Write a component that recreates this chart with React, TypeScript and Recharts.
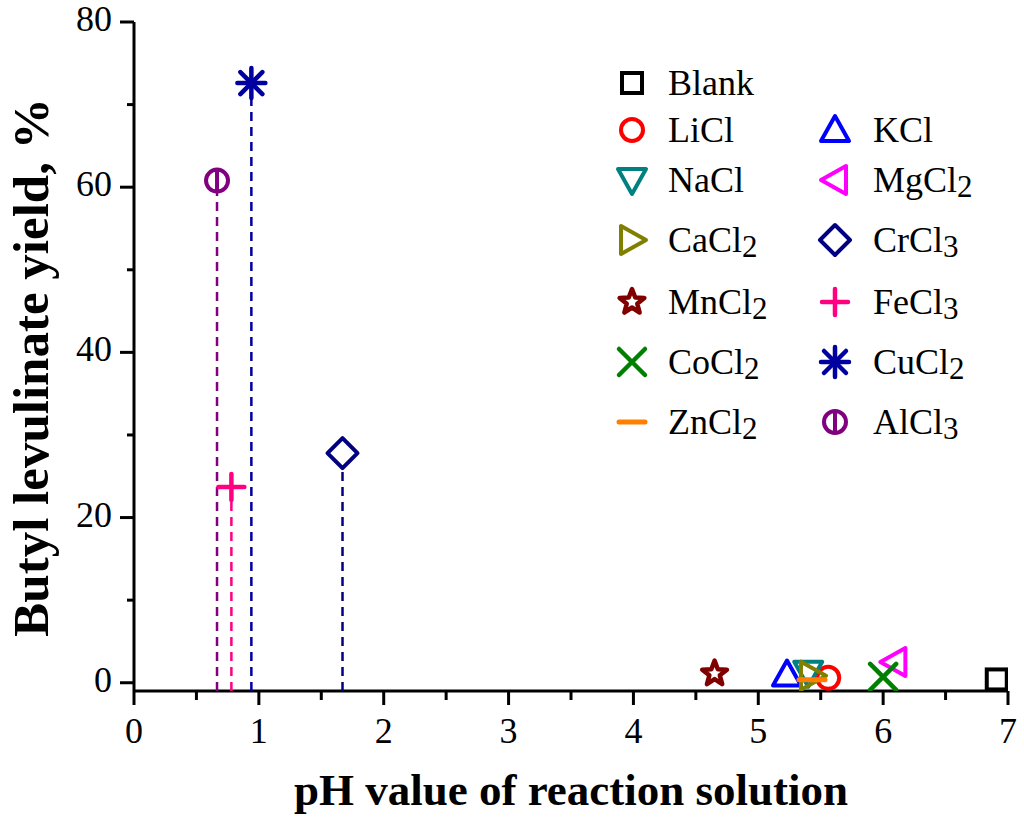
import React from 'react';
import { ScatterChart, Scatter, XAxis, YAxis, Legend, Label } from 'recharts';

// salts, measured pH of the reaction solution and butyl levulinate yield (%)
const salts = ['Blank', 'LiCl', 'KCl', 'NaCl', 'MgCl2', 'CaCl2', 'CrCl3', 'MnCl2', 'FeCl3', 'CoCl2', 'CuCl2', 'ZnCl2', 'AlCl3'];
const phValues = [6.91, 5.56, 5.23, 5.4, 6.09, 5.43, 1.67, 4.65, 0.78, 6.0, 0.94, 5.43, 0.665];
const yieldValues = [0.4, 0.6, 1.0, 1.2, 2.5, 0.85, 27.8, 1.1, 23.7, 0.7, 72.6, 0.35, 60.8];
const colors = ['#000000', '#ff0000', '#0000ff', '#008080', '#ff00ff', '#808000', '#000080', '#800000', '#ff0080', '#008000', '#0000a0', '#ff8000', '#800080'];
const markers = ['square', 'circle', 'up', 'down', 'left', 'right', 'diamond', 'star', 'plus', 'cross', 'asterisk', 'dash', 'circleBar'];

// salts that get a dashed drop line to the pH axis
const dropSalts = ['AlCl3', 'FeCl3', 'CuCl2', 'CrCl3'];

const legendLeft = ['Blank', 'LiCl', 'NaCl', 'CaCl2', 'MnCl2', 'CoCl2', 'ZnCl2'];
const legendRight = ['', 'KCl', 'MgCl2', 'CrCl3', 'FeCl3', 'CuCl2', 'AlCl3'];

const xTicks = [0, 0.5, 1, 1.5, 2, 2.5, 3, 3.5, 4, 4.5, 5, 5.5, 6, 6.5, 7];
const yTicks = [0, 10, 20, 30, 40, 50, 60, 70, 80];

const FONT = '"Liberation Serif", "Times New Roman", serif';

function Marker({ kind, cx, cy, color, fill = 'none' }: any) {
  const c = { stroke: color, strokeWidth: 4, fill, strokeLinejoin: 'round' as const, strokeLinecap: 'round' as const };
  switch (kind) {
    case 'square':
      return <rect x={cx - 10} y={cy - 10} width={20} height={20} {...c} strokeLinejoin="miter" />;
    case 'circle':
      return <circle cx={cx} cy={cy} r={11} {...c} />;
    case 'up':
      return <polygon points={`${cx},${cy - 14} ${cx + 14},${cy + 11} ${cx - 14},${cy + 11}`} {...c} />;
    case 'down':
      return <polygon points={`${cx},${cy + 14} ${cx + 14},${cy - 11} ${cx - 14},${cy - 11}`} {...c} />;
    case 'left':
      return <polygon points={`${cx - 14},${cy} ${cx + 11},${cy - 14} ${cx + 11},${cy + 14}`} {...c} />;
    case 'right':
      return <polygon points={`${cx + 14},${cy} ${cx - 11},${cy - 14} ${cx - 11},${cy + 14}`} {...c} />;
    case 'diamond':
      return <polygon points={`${cx},${cy - 15} ${cx + 15},${cy} ${cx},${cy + 15} ${cx - 15},${cy}`} {...c} />;
    case 'star': {
      const pts: string[] = [];
      for (let i = 0; i < 10; i++) {
        const r = i % 2 === 0 ? 13 : 5.5;
        const a = -Math.PI / 2 + (i * Math.PI) / 5;
        pts.push(`${cx + r * Math.cos(a)},${cy + r * Math.sin(a)}`);
      }
      return <polygon points={pts.join(' ')} {...c} strokeWidth={4.5} />;
    }
    case 'plus':
      return (
        <g {...c} strokeWidth={4.5}>
          <line x1={cx - 13} y1={cy} x2={cx + 13} y2={cy} />
          <line x1={cx} y1={cy - 13} x2={cx} y2={cy + 13} />
        </g>
      );
    case 'cross':
      return (
        <g {...c} strokeWidth={4.5}>
          <line x1={cx - 13} y1={cy - 13} x2={cx + 13} y2={cy + 13} />
          <line x1={cx - 13} y1={cy + 13} x2={cx + 13} y2={cy - 13} />
        </g>
      );
    case 'asterisk':
      return (
        <g {...c} strokeWidth={4.5}>
          <line x1={cx - 14} y1={cy} x2={cx + 14} y2={cy} />
          <line x1={cx} y1={cy - 15} x2={cx} y2={cy + 15} />
          <line x1={cx - 11} y1={cy - 11} x2={cx + 11} y2={cy + 11} />
          <line x1={cx - 11} y1={cy + 11} x2={cx + 11} y2={cy - 11} />
        </g>
      );
    case 'dash':
      return <line x1={cx - 13} y1={cy} x2={cx + 13} y2={cy} {...c} strokeWidth={5} />;
    case 'circleBar':
      return (
        <g {...c}>
          <circle cx={cx} cy={cy} r={11} />
          <line x1={cx} y1={cy - 11} x2={cx} y2={cy + 11} strokeLinecap="butt" />
        </g>
      );
    default:
      return null;
  }
}

function SaltName({ name, x, y }: { name: string; x: number; y: number }) {
  const m = name.match(/^(.*?)(\d)$/);
  return (
    <text x={x} y={y} fontFamily={FONT} fontSize={36} fill="#000">
      {m ? m[1] : name}
      {m && (
        <tspan fontSize={31} dy={5}>
          {m[2]}
        </tspan>
      )}
    </text>
  );
}

const legendRows = [33, 80, 130, 190, 252, 312, 372];

function LegendBox() {
  const item = (name: string, row: number, mx: number, tx: number) => {
    if (!name) return null;
    const i = salts.indexOf(name);
    return (
      <g key={name}>
        <Marker kind={markers[i]} cx={mx} cy={legendRows[row]} color={colors[i]} />
        <SaltName name={name} x={tx} y={legendRows[row] + 12} />
      </g>
    );
  };
  return (
    <svg width={420} height={400}>
      {legendLeft.map((n, r) => item(n, r, 42, 78))}
      {legendRight.map((n, r) => item(n, r, 245, 283))}
    </svg>
  );
}

function XTick({ x, y, payload }: any) {
  const major = Number.isInteger(payload.value);
  return (
    <g>
      <line x1={x} y1={y} x2={x} y2={y + (major ? 14 : 9)} stroke="#000" strokeWidth={3} />
      {major && (
        <text x={x} y={y + 52} textAnchor="middle" fontFamily={FONT} fontSize={36} fill="#000">
          {payload.value}
        </text>
      )}
    </g>
  );
}

function YTick({ x, y, payload }: any) {
  const major = payload.value % 20 === 0;
  return (
    <g>
      <line x1={x} y1={y} x2={x - (major ? 14 : 7)} y2={y} stroke="#000" strokeWidth={3} />
      {major && (
        <text x={x - 22} y={y + 9} textAnchor="end" fontFamily={FONT} fontSize={36} fill="#000">
          {payload.value}
        </text>
      )}
    </g>
  );
}

const axisLine = { stroke: '#000', strokeWidth: 3 };

export default function App() {
  return (
    <div style={{ position: 'absolute', left: 0, top: 0, background: '#fff' }}>
      <ScatterChart width={1024} height={823} margin={{ top: 22, right: 16, left: 0, bottom: 0 }}>
        <XAxis
          type="number"
          dataKey="x"
          domain={[0, 7]}
          ticks={xTicks}
          interval={0}
          height={132}
          tickSize={0}
          tickMargin={0}
          tickLine={false}
          tick={<XTick />}
          axisLine={axisLine}
          allowDataOverflow
        >
          <Label
            content={({ viewBox }: any) => (
              <text
                x={viewBox.x + viewBox.width / 2}
                y={viewBox.y + 114}
                textAnchor="middle"
                fontFamily={FONT}
                fontWeight="bold"
                fontSize={45}
                fill="#000"
              >
                pH value of reaction solution
              </text>
            )}
          />
        </XAxis>
        <XAxis xAxisId="top" orientation="top" type="number" domain={[0, 7]} height={0} tick={false} tickLine={false} axisLine={axisLine} />
        <YAxis
          type="number"
          dataKey="y"
          domain={[-1, 80]}
          ticks={yTicks}
          interval={0}
          width={134}
          tickSize={0}
          tickMargin={0}
          tickLine={false}
          tick={<YTick />}
          axisLine={axisLine}
          allowDataOverflow
        >
          <Label
            content={({ viewBox }: any) => {
              const cx = 48;
              const cy = viewBox.y + viewBox.height / 2 + 11;
              return (
                <text
                  x={cx}
                  y={cy}
                  transform={`rotate(-90 ${cx} ${cy})`}
                  textAnchor="middle"
                  fontFamily={FONT}
                  fontWeight="bold"
                  fontSize={51}
                  fill="#000"
                >
                  Butyl levulinate yield, %
                </text>
              );
            }}
          />
        </YAxis>
        <YAxis yAxisId="right" orientation="right" type="number" domain={[-1, 80]} width={0} tick={false} tickLine={false} axisLine={axisLine} />
        <Legend
          layout="vertical"
          align="center"
          verticalAlign="middle"
          wrapperStyle={{ left: 590, top: 50, width: 420, height: 400 }}
          content={() => <LegendBox />}
        />
        {dropSalts.map((name) => {
          const i = salts.indexOf(name);
          return (
            <Scatter
              key={`drop-${name}`}
              data={[
                { x: phValues[i], y: -1 },
                { x: phValues[i], y: yieldValues[i] },
              ]}
              line={{ stroke: colors[i], strokeWidth: 2.5, strokeDasharray: '9 6' }}
              shape={() => <g />}
              legendType="none"
              isAnimationActive={false}
            />
          );
        })}
        {salts.map((name, i) => (
          <Scatter
            key={name}
            name={name}
            data={[{ x: phValues[i], y: yieldValues[i] }]}
            shape={(p: any) => (
              <Marker
                kind={markers[i]}
                cx={p.cx}
                cy={p.cy}
                color={colors[i]}
                fill={dropSalts.includes(name) ? '#fff' : 'none'}
              />
            )}
            isAnimationActive={false}
          />
        ))}
      </ScatterChart>
    </div>
  );
}
